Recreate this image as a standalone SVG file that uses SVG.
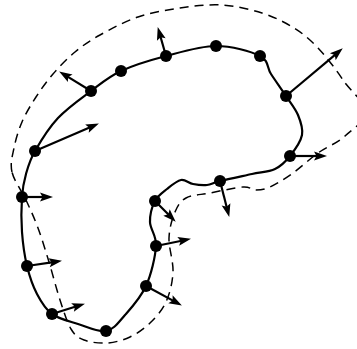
<svg xmlns="http://www.w3.org/2000/svg" width="357" height="349" viewBox="0 0 357 349">
<style>
.curve{fill:none;stroke:#000;stroke-width:2.2;stroke-linejoin:round}
.dash{fill:none;stroke:#000;stroke-width:1.5;stroke-dasharray:9,6}
.arrow{fill:none;stroke:#000;stroke-width:2.2;marker-end:url(#ah)}
.node{fill:#000}
</style>
<defs>
<marker id="ah" markerUnits="userSpaceOnUse" markerWidth="15" markerHeight="10" refX="6" refY="4.5" orient="auto" overflow="visible">
<path d="M0,0 L13,4.5 L0,9 L2.5,4.5 Z" fill="#000"/>
</marker>
</defs>
<g id="dashed-boundary">
<path class="dash" d="M12,172 C10,163.33 12.33,156.33 14,148 C15.67,139.67 18.33,130.5 22,122 C25.67,113.5 30.83,105 36,97 C41.17,89 46.5,81.5 53,74 C59.5,66.5 67.17,58.5 75,52 C82.83,45.5 89.5,40.83 100,35 C110.5,29.17 124.67,21.5 138,17 C151.33,12.5 166,10 180,8 C194,6 208.33,4.17 222,5 C235.67,5.83 250,9.17 262,13 C274,16.83 284.67,22.17 294,28 C303.33,33.83 309.83,39.33 318,48 C326.17,56.67 336,69.33 343,80 C350,90.67 366,102.67 366,112 C366,121.33 352,129.17 345,136 C338,142.83 326.67,146.83 318,153 C309.33,159.17 301,167.33 293,173 C285,178.67 276.17,184.17 270,187 C263.83,189.83 260.5,190 256,190 C251.5,190 250.67,186.5 243,187 C235.33,187.5 219.5,191.17 210,193 C200.5,194.83 191.83,194.83 186,198 C180.17,201.17 177.83,205.33 175,212 C172.17,218.67 169.33,228 169,238 C168.67,248 173.5,261.33 173,272 C172.5,282.67 169.83,293.5 166,302 C162.17,310.5 156,317.17 150,323 C144,328.83 137.17,333.67 130,337 C122.83,340.33 114.67,342.5 107,343 C99.33,343.5 90,342.33 84,340 C78,337.67 75,335.67 71,329 C67,322.33 63.67,311.17 60,300 C56.33,288.83 52.67,274 49,262 C45.33,250 41.83,238.33 38,228 C34.17,217.67 30.33,209.33 26,200 C21.67,190.67 14,180.67 12,172 Z"/>
</g>
<g id="contour">
<path class="curve" d="M35,151 C40.33,141.67 48.67,128 58,118 C67.33,108 80.5,98.83 91,91 C101.5,83.17 108.5,76.83 121,71 C133.5,65.17 150.17,60.17 166,56 C181.83,51.83 200.33,46 216,46 C231.67,46 250.83,51.33 260,56 C269.17,60.67 266.67,67.33 271,74 C275.33,80.67 281.5,89.17 286,96 C290.5,102.830 295.33,108.5 298,115 C300.67,121.5 303.33,128.17 302,135 C300.67,141.83 294.5,150.33 290,156 C285.5,161.67 281.33,166 275,169 C268.67,172 261.17,172 252,174 C242.83,176 227.5,179.17 220,181 C212.5,182.83 211.5,184.5 207,185 C202.5,185.5 197.33,184.83 193,184 C188.67,183.17 185.33,179.17 181,180 C176.67,180.83 171.33,185.5 167,189 C162.67,192.5 157.83,195.5 155,201 C152.17,206.5 149.83,214.5 150,222 C150.17,229.5 156.67,235.33 156,246 C155.33,256.67 151.17,274.5 146,286 C140.83,297.5 131.67,307.5 125,315 C118.33,322.5 113.83,329.5 106,331 C98.17,332.5 87,326.83 78,324 C69,321.17 58.83,319 52,314 C45.17,309 41.17,302 37,294 C32.83,286 29.5,276.33 27,266 C24.5,255.67 22.83,243.5 22,232 C21.17,220.5 21.33,206.67 22,197 C22.67,187.33 23.83,181.67 26,174 C28.17,166.33 29.67,160.33 35,151 Z"/>
</g>
<g id="connectors">
<line class="arrow" x1="35" y1="151" x2="92.48" y2="126.36"/>
<line class="arrow" x1="91" y1="91" x2="65.11" y2="75.13"/>
<line class="arrow" x1="166" y1="56" x2="159.65" y2="33.77"/>
<line class="arrow" x1="286" y1="96" x2="337.4" y2="52.86"/>
<line class="arrow" x1="290" y1="156" x2="320" y2="156"/>
<line class="arrow" x1="220" y1="181" x2="227.5" y2="210.19"/>
<line class="arrow" x1="155" y1="201" x2="170.76" y2="216.76"/>
<line class="arrow" x1="156" y1="246" x2="184.12" y2="240.21"/>
<line class="arrow" x1="146" y1="286" x2="175.73" y2="302.14"/>
<line class="arrow" x1="52" y1="314" x2="78.27" y2="305.79"/>
<line class="arrow" x1="27" y1="266" x2="55.07" y2="261.87"/>
<line class="arrow" x1="22" y1="197" x2="46" y2="197"/>
</g>
<g id="n1"><circle class="node" cx="35" cy="151" r="6"/></g>
<g id="n2"><circle class="node" cx="91" cy="91" r="6"/></g>
<g id="n3"><circle class="node" cx="121" cy="71" r="6"/></g>
<g id="n4"><circle class="node" cx="166" cy="56" r="6"/></g>
<g id="n5"><circle class="node" cx="216" cy="46" r="6"/></g>
<g id="n6"><circle class="node" cx="260" cy="56" r="6"/></g>
<g id="n7"><circle class="node" cx="286" cy="96" r="6"/></g>
<g id="n8"><circle class="node" cx="290" cy="156" r="6"/></g>
<g id="n9"><circle class="node" cx="220" cy="181" r="6"/></g>
<g id="n10"><circle class="node" cx="155" cy="201" r="6"/></g>
<g id="n11"><circle class="node" cx="156" cy="246" r="6"/></g>
<g id="n12"><circle class="node" cx="146" cy="286" r="6"/></g>
<g id="n13"><circle class="node" cx="106" cy="331" r="6"/></g>
<g id="n14"><circle class="node" cx="52" cy="314" r="6"/></g>
<g id="n15"><circle class="node" cx="27" cy="266" r="6"/></g>
<g id="n16"><circle class="node" cx="22" cy="197" r="6"/></g>
</svg>
